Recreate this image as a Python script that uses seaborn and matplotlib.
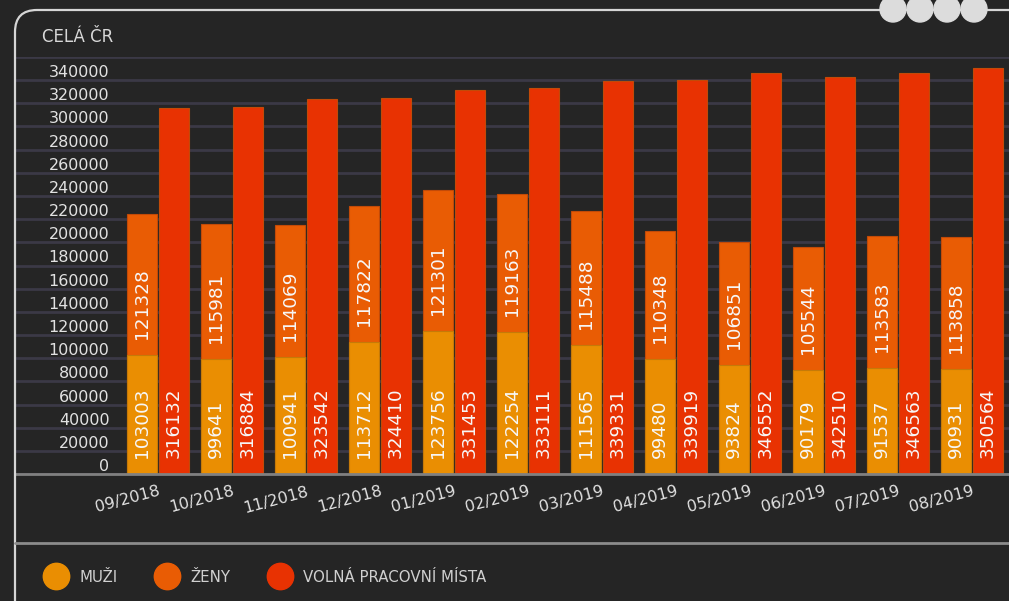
import numpy as np
import pandas as pd
import matplotlib
matplotlib.use('Agg')
import matplotlib.pyplot as plt
from matplotlib.patches import FancyBboxPatch, Circle
from matplotlib.lines import Line2D
import seaborn as sns

# data
months = ['09/2018', '10/2018', '11/2018', '12/2018', '01/2019', '02/2019',
          '03/2019', '04/2019', '05/2019', '06/2019', '07/2019', '08/2019']
muzi = [103003, 99641, 100941, 113712, 123756, 122254,
        111565, 99480, 93824, 90179, 91537, 90931]
zeny = [121328, 115981, 114069, 117822, 121301, 119163,
        115488, 110348, 106851, 105544, 113583, 113858]
volna = [316132, 316884, 323542, 324410, 331453, 333111,
         339331, 339919, 346552, 342510, 346563, 350564]
yticks = list(range(0, 340001, 20000))

BG = '#252525'
C_MUZI = '#ea8e02'
C_ZENY = '#e95c04'
C_VOLNA = '#e83202'
TXT = '#e2e2e2'

sns.set_theme(style='dark', rc={
    'figure.facecolor': BG,
    'axes.facecolor': BG,
    'savefig.facecolor': BG,
})
plt.rcParams['font.family'] = ['DejaVu Sans']

W, H = 1009, 601
fig = plt.figure(figsize=(W / 100, H / 100), dpi=100)

# card frame + decoration
card = FancyBboxPatch((15, -40), 1200, H - 10 + 40, boxstyle='round,pad=0,rounding_size=22',
                      transform=None, facecolor='none', edgecolor='#d6d6d6', linewidth=1.6)
fig.add_artist(card)
for cx in [893, 920, 947, 974]:
    fig.add_artist(Circle((cx, H - 9), 13, transform=None, color='#dcdcdc', zorder=5))

ax = fig.add_axes([15 / W, 1 - 474 / H, 1 - 15 / W, (474 - 57) / H])
ax.set_facecolor('none')

# stacked totals (zeny on top of muzi) and vacancies
totals = [m + z for m, z in zip(muzi, zeny)]
df_top = pd.DataFrame({
    'month': months * 2,
    'value': totals + volna,
    'series': ['stack'] * len(months) + ['volna'] * len(months),
})
df_m = pd.DataFrame({'month': months, 'value': muzi, 'series': ['stack'] * len(months)})

common = dict(x='month', y='value', hue='series', hue_order=['stack', 'volna'],
              order=months, dodge=True, width=0.85, gap=0.05, saturation=1,
              errorbar=None, legend=False, ax=ax, linewidth=0.8)
sns.barplot(data=df_top, palette={'stack': C_ZENY, 'volna': C_VOLNA},
            edgecolor='#c24a08', **common)
sns.barplot(data=df_m, palette={'stack': C_MUZI, 'volna': C_VOLNA},
            edgecolor='#c57a08', **common)

stack_bars = ax.containers[0]
volna_bars = ax.containers[1]

lab_kw = dict(textcoords='offset points', xytext=(0, 11.5), rotation=90,
              ha='center', va='bottom', color='#f7f7f7', fontsize=13.3)
for i in range(len(months)):
    xs = stack_bars[i].get_x() + stack_bars[i].get_width() / 2
    xv = volna_bars[i].get_x() + volna_bars[i].get_width() / 2
    ax.annotate(str(muzi[i]), (xs, 0), **lab_kw)
    ax.annotate(str(zeny[i]), (xs, muzi[i]), **lab_kw)
    ax.annotate(str(volna[i]), (xv, 0), **lab_kw)

ax.set_xlim(-1.93, 11.5)
ax.set_ylim(0, 360000)
ax.set_xlabel('')
ax.set_ylabel('')

# y gridlines incl. the top one, labels inside the card
ax.set_yticks(yticks + [360000])
ax.set_yticklabels([str(v) for v in yticks] + [''])
ax.tick_params(axis='y', length=0, pad=-68, labelsize=11.5, labelcolor=TXT)
for lab in ax.get_yticklabels():
    lab.set_verticalalignment('bottom')
ax.yaxis.grid(True, color='#3b3946', linewidth=2)
ax.set_axisbelow(True)

ax.set_xticks(range(len(months)))
ax.set_xticklabels(months, rotation=15, ha='right', rotation_mode='anchor')
ax.tick_params(axis='x', length=0, pad=7, labelsize=11.5, labelcolor=TXT)
for lab in ax.get_xticklabels():
    lab.set_verticalalignment('top')

for side in ['top', 'right', 'left']:
    ax.spines[side].set_visible(False)
ax.spines['bottom'].set_color('#808080')
ax.spines['bottom'].set_linewidth(2)

fig.text(42 / W, 1 - 37 / H, 'CELÁ ČR', color='#d8d8d8', fontsize=12, va='center', ha='left')

# separator above legend
fig.add_artist(Line2D([15 / W, 1], [1 - 543 / H] * 2, color='#8c8c8c', linewidth=2))

handles = [Line2D([], [], linestyle='none', marker='o', markersize=19, color=c)
           for c in [C_MUZI, C_ZENY, C_VOLNA]]
fig.legend(handles, ['MUŽI', 'ŽENY', 'VOLNÁ PRACOVNÍ MÍSTA'], ncol=3,
           loc='center left', bbox_to_anchor=(44 / W, 1 - 577 / H),
           frameon=False, borderpad=0, borderaxespad=0, fontsize=10.8,
           handlelength=1.6, handletextpad=0.75, columnspacing=2.5,
           labelcolor='#d0d0d0')

fig.savefig('out.png', dpi=100)
